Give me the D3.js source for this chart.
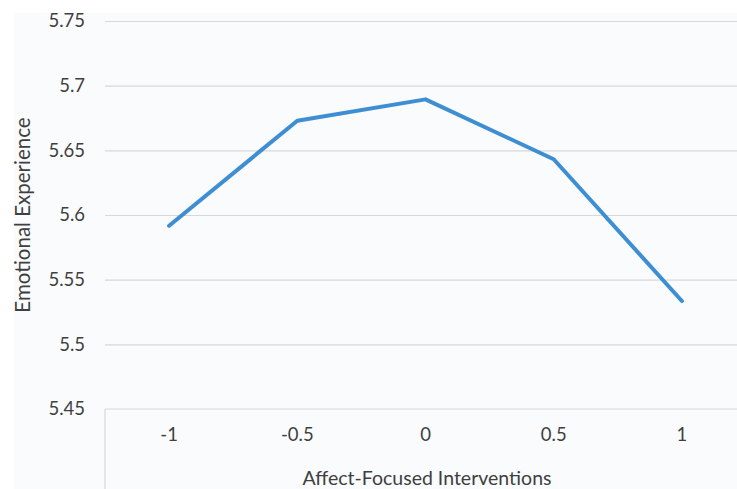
<!DOCTYPE html>
<html>
<head>
<meta charset="utf-8">
<script src="https://cdn.jsdelivr.net/npm/d3@7"></script>
<style>
  html, body { margin: 0; padding: 0; background: #ffffff; }
  svg { display: block; }
  text { font-family: Lato, "Open Sans", sans-serif; fill: #3f3f3f; }
</style>
</head>
<body>
<svg id="chart" width="737" height="489"></svg>
<script>
const categories = ["-1", "-0.5", "0", "0.5", "1"];
const values = [5.5917, 5.6729, 5.6894, 5.6431, 5.5335];
const yTicks = [5.45, 5.5, 5.55, 5.6, 5.65, 5.7, 5.75];
const xTitle = "Affect-Focused Interventions";
const yTitle = "Emotional Experience";

const svg = d3.select("#chart");
const W = 737, H = 489;
const plot = { left: 105, right: 746, top: 21, bottom: 409 };

svg.append("rect")
  .attr("x", 14).attr("y", 13)
  .attr("width", W - 14).attr("height", H - 13)
  .attr("fill", "#fafbfd");

const x = d3.scaleBand().domain(categories).range([plot.left, plot.right]).paddingInner(0).paddingOuter(0);
const y = d3.scaleLinear().domain([5.45, 5.75]).range([plot.bottom, plot.top]);

// gridlines
const grid = svg.append("g")
  .attr("transform", `translate(${plot.left},0)`)
  .call(d3.axisLeft(y).tickValues(yTicks.filter(v => v > 5.45)).tickSize(-(plot.right - plot.left)).tickFormat(""));
grid.select(".domain").remove();
grid.selectAll("line").attr("stroke", "#d6d8da").attr("stroke-width", 1.2);

// y tick labels
const yAxis = svg.append("g")
  .attr("transform", `translate(${plot.left},0)`)
  .call(d3.axisLeft(y).tickValues(yTicks).tickSize(0).tickPadding(20).tickFormat(d => d3.format("")(+d.toFixed(2))));
yAxis.select(".domain").remove();
yAxis.selectAll("text").attr("font-size", 18.5).style("fill", "#3f3f3f").style("font-family", "Lato, 'Open Sans', sans-serif");

// category axis
const xAxis = svg.append("g")
  .attr("transform", `translate(0,${plot.bottom})`)
  .call(d3.axisBottom(x).tickSize(0).tickPadding(19));
xAxis.select(".domain").remove();
xAxis.selectAll("text").attr("font-size", 18.5).style("fill", "#3f3f3f").style("font-family", "Lato, 'Open Sans', sans-serif");

svg.append("line")
  .attr("x1", plot.left).attr("x2", plot.right)
  .attr("y1", y(5.45)).attr("y2", y(5.45))
  .attr("stroke", "#d6d8da").attr("stroke-width", 1.2);
svg.append("line")
  .attr("x1", plot.left).attr("x2", plot.left)
  .attr("y1", y(5.45)).attr("y2", H)
  .attr("stroke", "#d6d8da").attr("stroke-width", 1.2);

// line
const line = d3.line()
  .x((d, i) => x(categories[i]) + x.bandwidth() / 2)
  .y(d => y(d));
svg.append("path")
  .datum(values)
  .attr("d", line)
  .attr("fill", "none")
  .attr("stroke", "#3d8ed2")
  .attr("stroke-width", 4)
  .attr("stroke-linejoin", "round")
  .attr("stroke-linecap", "round");

// titles
svg.append("text")
  .attr("x", 427).attr("y", 485)
  .attr("text-anchor", "middle")
  .attr("font-size", 19.5)
  .text(xTitle);

svg.append("text")
  .attr("transform", "translate(30,215) rotate(-90)")
  .attr("text-anchor", "middle")
  .attr("font-size", 20.5)
  .text(yTitle);
</script>
</body>
</html>
